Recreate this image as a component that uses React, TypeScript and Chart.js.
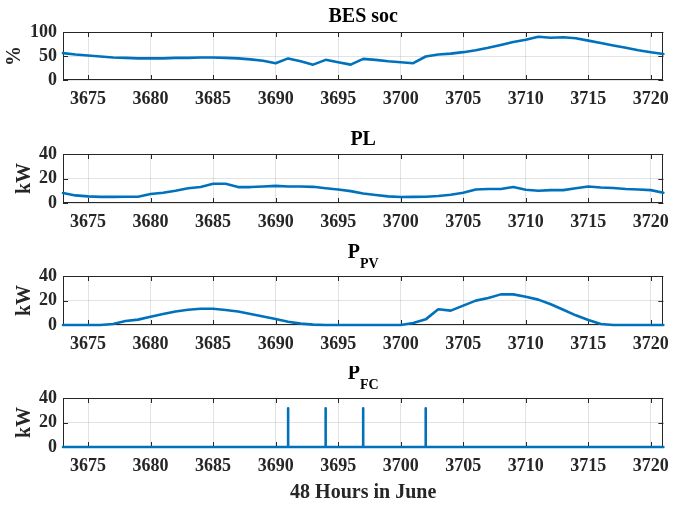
import React, { useEffect, useRef } from 'react';
import { Chart, registerables } from 'chart.js';

Chart.register(...registerables);

// ---------- data ----------
const hours = [
  3673, 3674, 3675, 3676, 3677, 3678, 3679, 3680, 3681, 3682, 3683, 3684, 3685, 3686, 3687, 3688,
  3689, 3690, 3691, 3692, 3693, 3694, 3695, 3696, 3697, 3698, 3699, 3700, 3701, 3702, 3703, 3704,
  3705, 3706, 3707, 3708, 3709, 3710, 3711, 3712, 3713, 3714, 3715, 3716, 3717, 3718, 3719, 3720, 3721,
];

const besSoc = [
  56, 53, 51, 49, 47, 46, 45, 45, 45, 46, 46, 47, 47, 46, 45, 43,
  40, 35, 45, 39, 32, 42, 37, 32, 44, 42, 39, 37, 35, 49, 53, 55,
  58, 62, 67, 73, 79, 84, 90, 88, 89, 87, 82, 77, 72, 67, 62, 58, 54,
];

const pLoad = [
  8.1, 6.2, 5.4, 5.0, 5.0, 5.1, 5.1, 7.3, 8.4, 10.0, 12.0, 13.0, 15.7, 15.7, 13.0, 13.0,
  13.5, 14.0, 13.5, 13.5, 13.2, 12.0, 11.0, 9.7, 7.8, 6.5, 5.4, 4.9, 5.0, 5.1, 5.7, 6.8,
  8.4, 11.0, 11.4, 11.4, 13.0, 10.8, 10.0, 10.5, 10.5, 12.0, 13.5, 12.7, 12.2, 11.4, 11.0, 10.5, 8.4,
];

const pPV = [
  0, 0, 0, 0, 0.8, 3.3, 4.4, 6.8, 9.0, 11.0, 12.5, 13.3, 13.3, 12.2, 11.0, 9.0,
  7.0, 4.9, 2.7, 1.1, 0.3, 0, 0, 0, 0, 0, 0, 0, 1.6, 4.6, 12.8, 11.7,
  15.8, 19.9, 22.0, 25.0, 25.0, 23.0, 20.7, 16.9, 12.5, 7.9, 4.1, 0.8, 0, 0, 0, 0, 0,
];

// fuel cell: zero everywhere except short pulses at these hours
const fcPulseHours = [3691, 3694, 3697, 3702];
const fcPulseValues = [31.5, 31.5, 31.5, 31.5];

const xTicks = [3675, 3680, 3685, 3690, 3695, 3700, 3705, 3710, 3715, 3720];
const xMin = 3673;
const xMax = 3721;
const socTicks = [0, 50, 100];
const kwTicks = [0, 20, 40];

// ---------- style ----------
const FONT = '"Liberation Serif", "Times New Roman", serif';
const LINE = '#0072BD';
const AXIS = '#262626';
const GRID = 'rgba(38,38,38,0.13)';
const W = 678;

const subplotTitle = {
  id: 'subplotTitle',
  afterDraw(chart: any, _args: any, opts: any) {
    const { ctx, chartArea } = chart;
    const cx = (chartArea.left + chartArea.right) / 2;
    const mainFont = `bold 20px ${FONT}`;
    const subFont = `bold 14px ${FONT}`;
    ctx.save();
    ctx.fillStyle = '#000';
    ctx.textBaseline = 'alphabetic';
    ctx.textAlign = 'left';
    ctx.font = mainFont;
    const wMain = ctx.measureText(opts.main).width;
    let wSub = 0;
    if (opts.sub) {
      ctx.font = subFont;
      wSub = ctx.measureText(opts.sub).width;
    }
    const x0 = cx - (wMain + wSub) / 2;
    const by = chartArea.top - opts.gap;
    ctx.font = mainFont;
    ctx.fillText(opts.main, x0, by);
    if (opts.sub) {
      ctx.font = subFont;
      ctx.fillText(opts.sub, x0 + wMain, by + opts.subDrop);
    }
    ctx.restore();
  },
};

const boxTicks = {
  id: 'boxTicks',
  beforeDatasetsDraw(chart: any) {
    const { ctx, chartArea: a, scales } = chart;
    const xs = scales.x;
    const ys = scales.y;
    const L = 5;
    ctx.save();
    ctx.strokeStyle = AXIS;
    ctx.lineWidth = 1;
    ctx.beginPath();
    xs.ticks.forEach((t: any) => {
      const px = Math.round(xs.getPixelForValue(t.value)) + 0.5;
      ctx.moveTo(px, a.bottom);
      ctx.lineTo(px, a.bottom - L);
      ctx.moveTo(px, a.top);
      ctx.lineTo(px, a.top + L);
    });
    ys.ticks.forEach((t: any) => {
      const py = Math.round(ys.getPixelForValue(t.value)) + 0.5;
      ctx.moveTo(a.left, py);
      ctx.lineTo(a.left + L, py);
      ctx.moveTo(a.right, py);
      ctx.lineTo(a.right - L, py);
    });
    ctx.stroke();
    ctx.strokeRect(Math.round(a.left) + 0.5, Math.round(a.top) + 0.5, Math.round(a.width) - 1, Math.round(a.height) - 1);
    ctx.restore();
  },
};

type SubplotProps = {
  top: number;
  height: number;
  points: { x: number; y: number }[];
  yMax: number;
  yTicks: number[];
  yLabel: string;
  yTitlePad: number;
  title: { main: string; sub?: string; gap: number; subDrop?: number };
  xTitle?: string;
  xHeight: number;
};

function Subplot(p: SubplotProps) {
  const ref = useRef<HTMLCanvasElement | null>(null);
  useEffect(() => {
    if (!ref.current) return;
    const tickFont = { family: FONT, size: 18, weight: 'bold' as const };
    const labelFont = { family: FONT, size: 20, weight: 'bold' as const };
    const chart = new Chart(ref.current, {
      type: 'line',
      data: {
        datasets: [
          {
            data: p.points,
            borderColor: LINE,
            backgroundColor: LINE,
            borderWidth: 2.6,
            pointRadius: 0,
            tension: 0,
            borderJoinStyle: 'round',
            borderCapStyle: 'round',
            fill: false,
            clip: 4,
          },
        ],
      },
      options: {
        responsive: false,
        animation: false,
        events: [],
        layout: { padding: { top: 32, right: 7, left: 0, bottom: 0 } },
        plugins: {
          legend: { display: false },
          tooltip: { enabled: false },
          title: { display: false },
          subplotTitle: p.title,
        } as any,
        scales: {
          x: {
            type: 'linear',
            min: xMin,
            max: xMax,
            afterBuildTicks: (s: any) => {
              s.ticks = xTicks.map((v) => ({ value: v }));
            },
            afterFit: (s: any) => {
              s.height = p.xHeight;
            },
            grid: { color: GRID, drawTicks: false, lineWidth: 1 },
            border: { display: false },
            ticks: {
              padding: 9,
              color: AXIS,
              font: tickFont,
              maxRotation: 0,
              autoSkip: false,
              callback: (v: any) => String(v),
            },
            title: {
              display: !!p.xTitle,
              text: p.xTitle || '',
              color: AXIS,
              font: labelFont,
              padding: { top: 0, bottom: 3 },
            },
          },
          y: {
            min: 0,
            max: p.yMax,
            afterBuildTicks: (s: any) => {
              s.ticks = p.yTicks.map((v) => ({ value: v }));
            },
            afterFit: (s: any) => {
              s.width = 63;
            },
            grid: { color: GRID, drawTicks: false, lineWidth: 1 },
            border: { display: false },
            ticks: {
              padding: 6,
              color: AXIS,
              font: tickFont,
              autoSkip: false,
              callback: (v: any) => String(v),
            },
            title: {
              display: true,
              text: p.yLabel,
              color: AXIS,
              font: labelFont,
              padding: { top: p.yTitlePad, bottom: 0 },
            },
          },
        },
      } as any,
      plugins: [boxTicks, subplotTitle],
    });
    return () => chart.destroy();
  }, []);
  return (
    <div style={{ position: 'absolute', left: 0, top: p.top, width: W, height: p.height }}>
      <canvas ref={ref} width={W} height={p.height} style={{ display: 'block' }} />
    </div>
  );
}

const toPoints = (ys: number[]) => hours.map((h, i) => ({ x: h, y: ys[i] }));

function fcPoints() {
  const pts: { x: number; y: number }[] = [];
  hours.forEach((h) => {
    const k = fcPulseHours.indexOf(h);
    if (k >= 0) {
      pts.push({ x: h, y: 0 }, { x: h, y: fcPulseValues[k] }, { x: h, y: 0 });
    } else {
      pts.push({ x: h, y: 0 });
    }
  });
  return pts;
}

export default function App() {
  return (
    <div style={{ position: 'absolute', left: 0, top: 0, width: W, height: 508, background: '#fff' }}>
      <Subplot
        top={0}
        height={122}
        points={toPoints(besSoc)}
        yMax={100}
        yTicks={socTicks}
        yLabel="%"
        yTitlePad={3}
        title={{ main: 'BES soc', gap: 10 }}
        xHeight={42}
      />
      <Subplot
        top={122}
        height={122}
        points={toPoints(pLoad)}
        yMax={40}
        yTicks={kwTicks}
        yLabel="kW"
        yTitlePad={13}
        title={{ main: 'PL', gap: 9 }}
        xHeight={41}
      />
      <Subplot
        top={244}
        height={122}
        points={toPoints(pPV)}
        yMax={40}
        yTicks={kwTicks}
        yLabel="kW"
        yTitlePad={13}
        title={{ main: 'P', sub: 'PV', gap: 18, subDrop: 10 }}
        xHeight={41}
      />
      <Subplot
        top={366}
        height={142}
        points={fcPoints()}
        yMax={40}
        yTicks={kwTicks}
        yLabel="kW"
        yTitlePad={13}
        title={{ main: 'P', sub: 'FC', gap: 19, subDrop: 10 }}
        xTitle="48 Hours in June"
        xHeight={61}
      />
    </div>
  );
}
